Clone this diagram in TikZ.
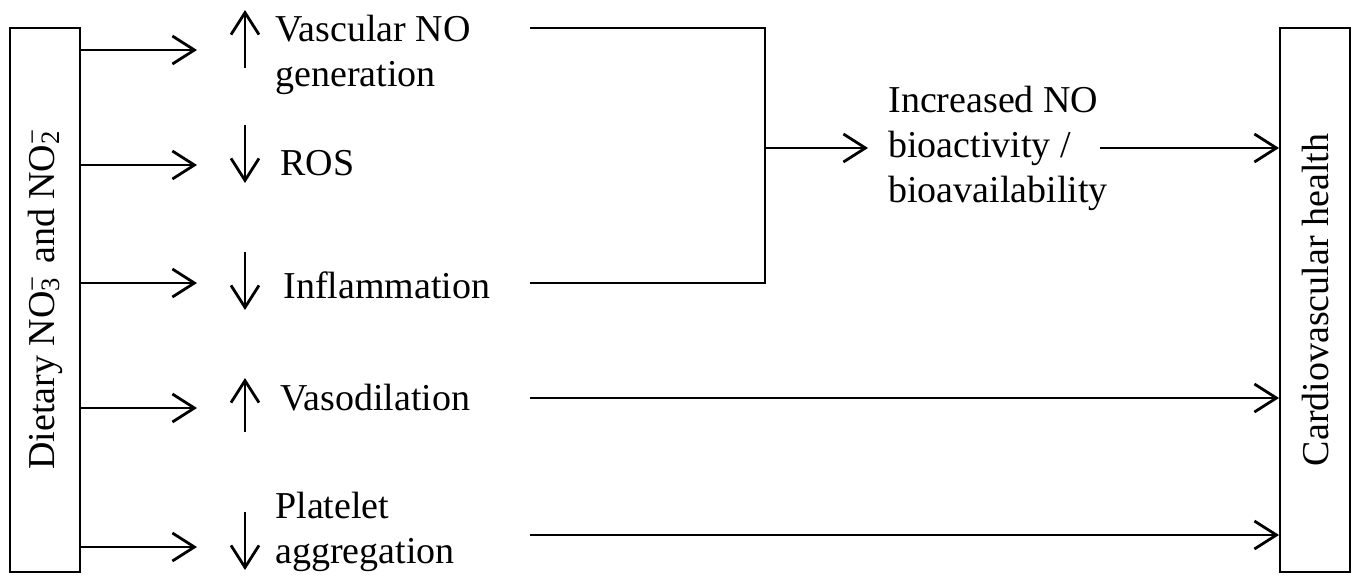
\documentclass[tikz,border=0pt]{standalone}
\usepackage{fontspec}
\setmainfont{Liberation Serif}
\usetikzlibrary{arrows.meta,positioning}
\newcommand\ionNO[1]{NO\makebox[0pt][l]{\textsuperscript{−}}\textsubscript{#1}\hspace{0.35em}}

\begin{document}
\begin{tikzpicture}[
  x=0.5pt, y=-0.5pt,
  font=\fontsize{19}{22.5}\selectfont,
  box/.style={draw,line width=1pt,rotate=90,minimum width=272pt,minimum height=35pt,inner sep=0pt},
  lbl/.style={anchor=west,align=left,inner sep=0pt},
  arr/.style={-{Straight Barb[length=11pt,width=14pt]},line width=1.4pt},
  ln/.style={line width=1.2pt}
]
\useasboundingbox (0,0) rectangle (1358,584);
\node[box] (diet) at (45,300) {Dietary \ionNO{3}and \ionNO{2}};
\node[box] (cardio) at (1315,300) {Cardiovascular health};
\node[lbl] (vasc) at (275,55) {Vascular NO\\generation};
\node[lbl] (ros) at (280,163) {ROS};
\node[lbl] (infl) at (283,285) {Inflammation};
\node[lbl] (vaso) at (280,398) {Vasodilation};
\node[lbl] (plat) at (275,532) {Platelet\\aggregation};
\node[lbl] (incr) at (888,148) {Increased NO\\bioactivity /\\bioavailability};
% inputs
\coordinate (t1) at (197,50);
\coordinate (t2) at (197,165);
\coordinate (t3) at (197,283);
\coordinate (t4) at (197,408);
\coordinate (t5) at (197,547);
\draw[arr] (t1 -| diet.south) -- (t1);
\draw[arr] (t2 -| diet.south) -- (t2);
\draw[arr] (t3 -| diet.south) -- (t3);
\draw[arr] (t4 -| diet.south) -- (t4);
\draw[arr] (t5 -| diet.south) -- (t5);
% up / down
\draw[arr] (245,68) -- (245,10);
\draw[arr] (245,125) -- (245,183);
\draw[arr] (245,252) -- (245,310);
\draw[arr] (245,432) -- (245,378);
\draw[arr] (245,512) -- (245,570);
% bracket
\coordinate (j1) at (530,28);
\coordinate (j2) at (530,283);
\coordinate (jm) at (765,148);
\draw[ln] (j1) -| (jm) |- (j2);
\draw[arr] (jm) -- ([xshift=-10pt]incr.west);
% outputs
\coordinate (o1) at (1100,148);
\coordinate (o2) at (530,398);
\coordinate (o3) at (530,535);
\draw[arr] (o1) -- (o1 -| cardio.north);
\draw[arr] (o2) -- (o2 -| cardio.north);
\draw[arr] (o3) -- (o3 -| cardio.north);
\end{tikzpicture}
\end{document}
